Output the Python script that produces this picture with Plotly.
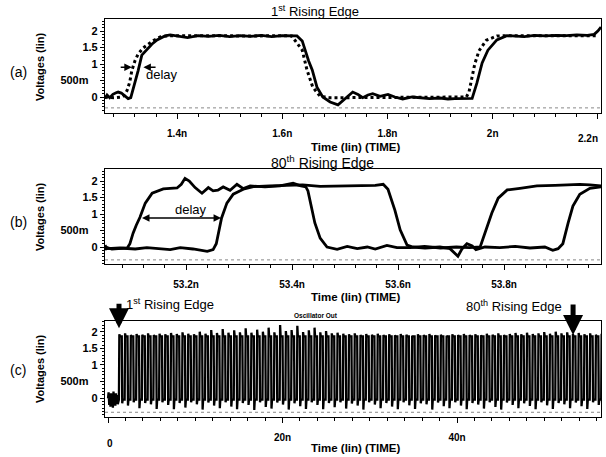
import plotly.graph_objects as go

# ---------------- Panel (a): 1st rising edge (time in ns, volts) ----------------
a_out_t = [1.263, 1.267, 1.272, 1.278, 1.284, 1.288, 1.294, 1.300, 1.307, 1.312,
           1.316, 1.321, 1.326, 1.333, 1.343, 1.352, 1.362, 1.370, 1.377, 1.387,
           1.400, 1.420, 1.440, 1.460, 1.480, 1.500, 1.520, 1.540, 1.560, 1.580,
           1.600, 1.615, 1.628, 1.638, 1.643, 1.650, 1.657, 1.666, 1.677, 1.691,
           1.706, 1.719, 1.734, 1.744, 1.753, 1.763, 1.772, 1.786, 1.801, 1.814,
           1.829, 1.847, 1.862, 1.880, 1.900, 1.915, 1.928, 1.940, 1.951, 1.961,
           1.970, 1.980, 1.991, 2.008, 2.027, 2.045, 2.060, 2.080, 2.100, 2.120,
           2.140, 2.160, 2.180, 2.193, 2.200, 2.206]
a_out_v = [-0.05, 0.06, -0.02, 0.08, 0.13, 0.15, 0.12, 0.05, -0.05, -0.02,
           0.20, 0.50, 0.80, 1.27, 1.45, 1.60, 1.73, 1.80, 1.85, 1.88,
           1.85, 1.80, 1.86, 1.84, 1.87, 1.83, 1.86, 1.84, 1.87, 1.83,
           1.86, 1.85, 1.85, 1.70, 1.42, 1.10, 0.82, 0.30, 0.00, -0.15,
           -0.24, -0.05, 0.15, 0.08, -0.02, 0.06, 0.10, 0.02, 0.08, 0.00,
           -0.06, 0.00, -0.03, -0.05, -0.03, -0.06, -0.05, -0.04, -0.05, -0.04,
           0.42, 1.03, 1.42, 1.73, 1.86, 1.85, 1.83, 1.87, 1.85, 1.87,
           1.86, 1.88, 1.87, 1.90, 2.00, 2.12]
a_ref_t = [1.263, 1.280, 1.295, 1.300, 1.305, 1.310, 1.314, 1.320, 1.326, 1.335,
           1.345, 1.356, 1.368, 1.385, 1.400, 1.450, 1.500, 1.550, 1.600, 1.618,
           1.624, 1.630, 1.638, 1.647, 1.658, 1.672, 1.690, 1.720, 1.760, 1.800,
           1.850, 1.900, 1.945, 1.950, 1.955, 1.960, 1.966, 1.974, 1.988, 2.008,
           2.030, 2.100, 2.150, 2.200]
a_ref_v = [0.00, -0.02, 0.00, 0.05, 0.20, 0.45, 0.80, 1.10, 1.30, 1.48,
           1.60, 1.72, 1.82, 1.86, 1.86, 1.85, 1.86, 1.85, 1.86, 1.85,
           1.72, 1.60, 1.42, 0.82, 0.30, 0.02, -0.02, -0.02, -0.02, -0.02,
           -0.02, -0.02, -0.02, 0.00, 0.15, 0.55, 1.00, 1.40, 1.72, 1.85,
           1.86, 1.86, 1.86, 1.86]

# ---------------- Panel (b): 80th rising edge ----------------
b_ref_t = [53.047, 53.051, 53.060, 53.075, 53.089, 53.094, 53.100, 53.106, 53.113, 53.123,
           53.136, 53.157, 53.183, 53.191, 53.198, 53.206, 53.217, 53.230, 53.242, 53.251,
           53.260, 53.270, 53.283, 53.296, 53.308, 53.321, 53.349, 53.377, 53.402, 53.415,
           53.426, 53.430, 53.434, 53.443, 53.453, 53.466, 53.485, 53.504, 53.523, 53.542,
           53.557, 53.579, 53.598, 53.623, 53.650, 53.680, 53.710, 53.735, 53.755, 53.764,
           53.777, 53.789, 53.806, 53.830, 53.862, 53.896, 53.943, 53.962, 53.983]
b_ref_v = [-0.08, -0.02, -0.06, -0.04, -0.03, 0.10, 0.42, 0.66, 0.90, 1.33,
           1.63, 1.76, 1.79, 1.90, 2.08, 2.00, 1.80, 1.63, 1.80, 1.70,
           1.72, 1.82, 1.72, 1.90, 1.77, 1.85, 1.82, 1.85, 1.93, 1.86,
           1.82, 1.70, 1.42, 0.73, 0.27, 0.00, -0.07, 0.02, -0.05, 0.00,
           -0.06, 0.05, -0.02, -0.02, 0.02, -0.03, 0.00, -0.02, 0.00, 0.42,
           1.03, 1.48, 1.73, 1.78, 1.85, 1.87, 1.90, 1.88, 1.85]
b_out_t = [53.047, 53.051, 53.075, 53.089, 53.104, 53.126, 53.150, 53.170, 53.189, 53.213,
           53.240, 53.251, 53.257, 53.261, 53.267, 53.277, 53.289, 53.308, 53.327, 53.358,
           53.396, 53.420, 53.453, 53.509, 53.557, 53.572, 53.581, 53.594, 53.604, 53.617,
           53.628, 53.651, 53.679, 53.698, 53.708, 53.713, 53.721, 53.730, 53.740, 53.747,
           53.764, 53.792, 53.821, 53.849, 53.877, 53.892, 53.902, 53.911, 53.921, 53.930,
           53.943, 53.962, 53.983]
b_out_v = [0.05, -0.05, -0.03, -0.04, -0.06, -0.02, -0.05, -0.08, -0.02, -0.06,
           -0.13, -0.08, 0.10, 0.42, 0.88, 1.33, 1.60, 1.75, 1.83, 1.85,
           1.86, 1.88, 1.84, 1.86, 1.87, 1.90, 1.75, 1.12, 0.52, 0.06,
           0.00, -0.03, 0.00, -0.05, -0.22, -0.28, -0.05, 0.10, 0.03, -0.08,
           0.00, -0.02, 0.02, -0.03, 0.00, -0.10, -0.05, 0.10, 0.73, 1.24,
           1.60, 1.78, 1.82]

# ---------------- Panel (c): whole oscillator output ----------------
c_init_t = [0.00, 0.07, 0.14, 0.21, 0.28, 0.35, 0.42, 0.49, 0.56, 0.63,
            0.70, 0.77, 0.84, 0.91, 0.98, 1.05, 1.12, 1.19]
c_init_v = [0.00, 0.18, -0.20, 0.10, -0.25, 0.15, -0.08, 0.05, -0.28, 0.20,
            -0.12, 0.08, -0.22, 0.15, -0.05, 0.10, -0.18, -0.05]
c_first_edge = 1.25      # ns, 1st rising edge
c_period = 0.658         # ns, oscillation period
c_settle_high = 1.86
c_settle_low = -0.04
c_high = [1.92, 1.95, 1.90, 1.93, 1.91, 1.95, 1.90, 1.94, 1.92, 1.96,
          1.93, 1.98, 1.94, 1.92, 2.00, 1.94, 2.05, 1.96, 2.08, 1.97,
          2.04, 1.98, 2.10, 1.97, 2.06, 2.00, 2.12, 1.98, 2.20, 2.02,
          2.05, 2.18, 1.99, 2.04, 2.12, 1.98, 2.02, 1.95, 1.97, 1.94,
          1.92, 1.95, 1.90, 1.93, 1.91, 1.94, 1.90, 1.92, 1.89, 1.93,
          1.91, 1.88, 1.92, 1.90, 1.93, 1.89, 1.91, 1.88, 1.92, 1.90,
          1.93, 1.90, 1.92, 1.89, 1.94, 1.91, 1.95, 1.90, 1.93, 1.96,
          1.92, 1.97, 1.93, 1.95, 1.99, 1.94, 2.00, 1.95, 1.98, 1.93,
          1.96, 1.92, 1.95, 1.91, 1.94]
c_low = [-0.15, -0.22, -0.12, -0.30, -0.14, -0.18, -0.32, -0.12, -0.20, -0.33,
         -0.14, -0.28, -0.12, -0.18, -0.34, -0.13, -0.22, -0.30, -0.12, -0.25,
         -0.33, -0.14, -0.20, -0.35, -0.12, -0.26, -0.31, -0.13, -0.19, -0.34,
         -0.15, -0.24, -0.32, -0.12, -0.20, -0.33, -0.14, -0.27, -0.12, -0.31,
         -0.16, -0.22, -0.34, -0.12, -0.19, -0.30, -0.14, -0.25, -0.33, -0.12,
         -0.21, -0.32, -0.15, -0.18, -0.34, -0.13, -0.24, -0.30, -0.12, -0.22,
         -0.33, -0.14, -0.19, -0.31, -0.12, -0.26, -0.34, -0.13, -0.20, -0.30,
         -0.15, -0.23, -0.33, -0.12, -0.21, -0.32, -0.14, -0.18, -0.30, -0.13,
         -0.24, -0.32, -0.12, -0.20, -0.28]

y_tickvals = [0, 0.5, 1, 1.5, 2]
y_ticktext = ["0", "500m&nbsp;&nbsp;&nbsp;", "1", "1.5", "2"]

# build oscillator trace from per-cycle peaks/troughs
c_t = list(c_init_t)
c_v = list(c_init_v)
for k in range(len(c_high)):
    tr = c_first_edge + k * c_period
    tf = tr + c_period / 2
    c_t += [tr, tr + 0.05, tr + 0.11, tf, tf + 0.05, tf + 0.11]
    c_v += [c_settle_low, c_high[k], c_settle_high, c_settle_high, c_low[k], c_settle_low]

FONT = "Liberation Sans, Arial, sans-serif"
W, H = 606, 457

def px_x(p):
    return p / W

def px_y(p):
    return 1 - p / H

fig = go.Figure()
fig.add_trace(go.Scatter(x=a_ref_t, y=a_ref_v, mode="lines", xaxis="x", yaxis="y",
                         line=dict(color="black", width=3, dash="3px,3px")))
fig.add_trace(go.Scatter(x=a_out_t, y=a_out_v, mode="lines", xaxis="x", yaxis="y",
                         line=dict(color="black", width=2.8)))
fig.add_trace(go.Scatter(x=b_ref_t, y=b_ref_v, mode="lines", xaxis="x2", yaxis="y2",
                         line=dict(color="black", width=2.8)))
fig.add_trace(go.Scatter(x=b_out_t, y=b_out_v, mode="lines", xaxis="x2", yaxis="y2",
                         line=dict(color="black", width=2.8)))
fig.add_trace(go.Scatter(x=c_t, y=c_v, mode="lines", xaxis="x3", yaxis="y3",
                         line=dict(color="black", width=2.3)))

xdom = [px_x(105), px_x(601)]

def xax(rng, tickvals, ticktext, minor_dtick, tick0, anchor):
    return dict(domain=xdom, range=rng, anchor=anchor, showgrid=False, zeroline=False,
                showline=True, mirror=True, linecolor="black", linewidth=1.2,
                tickmode="array", tickvals=tickvals, ticktext=ticktext,
                ticks="outside", ticklen=5, tickcolor="black", tickwidth=1,
                ticklabelstandoff=6,
                tickfont=dict(family=FONT, size=10, color="black", weight="bold"),
                minor=dict(tick0=tick0, dtick=minor_dtick, ticks="outside", ticklen=3,
                           tickcolor="black", showgrid=False))

def yax(rng, top, bottom, anchor):
    return dict(domain=[px_y(bottom), px_y(top)], range=rng, anchor=anchor,
                showgrid=False, zeroline=False, showline=True, mirror=True,
                linecolor="black", linewidth=1.2,
                tickmode="array", tickvals=y_tickvals, ticktext=y_ticktext,
                ticks="outside", ticklen=4, tickcolor="black",
                tickfont=dict(family=FONT, size=11, color="black", weight="bold"),
                minor=dict(tick0=0, dtick=0.1, ticks="outside", ticklen=2,
                           tickcolor="black", showgrid=False))

fig.update_layout(
    width=W, height=H, margin=dict(l=0, r=0, t=0, b=0),
    paper_bgcolor="white", plot_bgcolor="white", showlegend=False,
    xaxis=xax([1.263, 2.206], [1.4, 1.6, 1.8, 2.0, 2.2], ["1.4n", "1.6n", "1.8n", "2n", ""], 0.04, 1.4, "y"),
    yaxis=yax([-0.485, 2.364], 19, 113, "x"),
    xaxis2=xax([53.047, 53.983], [53.2, 53.4, 53.6, 53.8], ["53.2n", "53.4n", "53.6n", "53.8n"], 0.04, 53.2, "y2"),
    yaxis2=yax([-0.515, 2.364], 169, 264, "x2"),
    xaxis3=xax([-0.344, 56.5], [0, 20, 40], ["", "20n", "40n"], 2, 0, "y3"),
    yaxis3=yax([-0.562, 2.321], 321, 417, "x3"),
)

# faint inner lower frame lines of the waveform viewer
for xr, yv in (("x", -0.33), ("x2", -0.39), ("x3", -0.42)):
    fig.add_shape(type="line", xref=xr + " domain", yref=xr.replace("x", "y"),
                  x0=0, x1=1, y0=yv, y1=yv,
                  line=dict(color="#888888", width=1, dash="dot"))

ann = []

def txt(text, x, y, size, bold=False, angle=0):
    ann.append(dict(text=text, x=px_x(x), y=px_y(y), xref="paper", yref="paper",
                    showarrow=False, textangle=angle, xanchor="center", yanchor="middle",
                    font=dict(family=FONT, size=size, color="black",
                              weight="bold" if bold else "normal")))

txt("1<sup>st</sup> Rising Edge", 315, 11, 13)
txt("80<sup>th</sup> Rising Edge", 322, 162, 14)
for yy in (147, 297, 448):
    txt("Time (lin) (TIME)", 355, yy, 11.5, bold=True)
for yy in (66, 216, 368):
    txt("Voltages (lin)", 40, yy, 11, bold=True, angle=-90)
txt("(a)", 18, 72, 14)
txt("(b)", 18, 222, 14)
txt("(c)", 18, 370, 14)
txt("2.2n", 588, 138, 10, bold=True)
txt("0", 110, 443, 10, bold=True)
txt("delay", 162, 75, 13)
txt("delay", 191, 210, 13)
txt("1<sup>st</sup> Rising Edge", 170, 304, 13)
txt("80<sup>th</sup> Rising Edge", 514, 306, 13)
txt("Oscillator Out", 316, 315, 6.5, bold=True)

def arrow(xr, yr, x, y, ax, ay, both=False):
    ann.append(dict(text="", x=x, y=y, ax=ax, ay=ay, xref=xr, yref=yr,
                    axref=xr, ayref=yr, showarrow=True, arrowhead=2, arrowsize=1,
                    arrowwidth=1.5, arrowcolor="black",
                    arrowside="end+start" if both else "end"))

arrow("x", "y", 1.314, 0.9, 1.290, 0.9)
arrow("x", "y", 1.336, 0.9, 1.362, 0.9)
arrow("x2", "y2", 53.266, 0.88, 53.114, 0.88, both=True)

for xv, yv, dy in ((1.26, 2.1, -26), (53.3, 1.9, -32)):
    ann.append(dict(text="", x=xv, y=yv, xref="x3", yref="y3", ax=0, ay=dy,
                    showarrow=True, arrowhead=2, arrowsize=0.8, arrowwidth=5,
                    arrowcolor="black"))

fig.update_layout(annotations=ann)
fig.write_html("out.html", config={"displayModeBar": False},
               post_script="document.body.style.margin='0';")
